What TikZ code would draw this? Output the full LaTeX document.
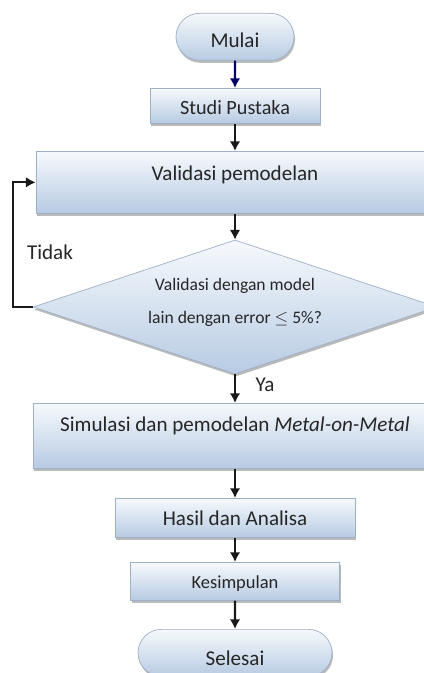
\documentclass[tikz,border=0pt]{standalone}
\usepackage{fontspec}
\setmainfont{Carlito}
\usepackage{tikz}
\usetikzlibrary{arrows,arrows.meta}
\usetikzlibrary{shapes.geometric,shapes.misc,shadows}
\tikzset{>={Latex[length=5.5pt,width=6pt]}}
\usepackage{xcolor}
\definecolor{topcol}{HTML}{F6F9FC}
\definecolor{botcol}{HTML}{B7CBE3}
\definecolor{edgecol}{HTML}{9FB0C6}
\colorlet{txtcol}{black!85}
\colorlet{startcol}{blue!40!black}
\tikzstyle{flow box}=[rectangle,draw=edgecol,top color=topcol,bottom color=botcol,text=txtcol,inner xsep=0pt,inner ysep=0pt,font=\fontsize{12}{14}\selectfont,drop shadow={shadow xshift=0.6pt,shadow yshift=-1.4pt,fill=black!45,opacity=0.6}]
\tikzstyle{flow end}=[flow box,rounded rectangle]
\tikzstyle{flow test}=[flow box,diamond,aspect=3,align=center,font=\fontsize{10}{12}\selectfont]
\tikzstyle{flow line}=[->,line width=1.3pt,black!90]

\begin{document}
\begin{tikzpicture}
  \def\mx{4.7}
  \useasboundingbox (0,0) rectangle (8.46,-13.46);

  \node[flow end,anchor=north,minimum width=2.36cm,text height=0.68cm,text depth=0.26cm] (start) at (\mx,-0.26) {Mulai};
  \node[flow box,anchor=north,minimum width=3.4cm,text height=0.52cm,text depth=0.18cm,font=\fontsize{11.5}{13.5}\selectfont] (study) at (\mx,-1.76) {Studi Pustaka};
  \node[flow box,anchor=north,minimum width=7.96cm,text height=0.58cm,text depth=0.66cm] (valid) at (\mx,-3.02) {Validasi pemodelan};
  \node[flow test,minimum width=8.08cm,minimum height=2.68cm] (test) at (\mx,-6.14)
       {Validasi dengan model\\[6.5pt] lain dengan error $\leq$ 5\%?\rule[-7pt]{0pt}{7pt}};
  \node[flow box,anchor=north,minimum width=8.08cm,text height=0.56cm,text depth=0.74cm] (sim) at (\mx,-8.06)
       {Simulasi dan pemodelan \textit{Metal-on-Metal}};
  \node[flow box,anchor=north,minimum width=4.8cm,text height=0.54cm,text depth=0.24cm] (result) at (\mx,-9.96) {Hasil dan Analisa};
  \node[flow box,anchor=north,minimum width=4.18cm,text height=0.52cm,text depth=0.24cm,font=\fontsize{10.5}{12.6}\selectfont] (concl) at (\mx,-11.24) {Kesimpulan};
  \node[flow end,anchor=north,minimum width=3.88cm,text height=0.72cm,text depth=0.22cm] (stop) at (\mx,-12.58) {Selesai};

  \node[txtcol,font=\fontsize{12}{14}\selectfont] (no) at (1.0,-5.04) {Tidak};
  \node[txtcol,font=\fontsize{12}{14}\selectfont] (yes) at (5.3,-7.7) {Ya};

  \draw[flow line,startcol] (start) -- (study);
  \draw[flow line] (study) -- (valid);
  \draw[flow line] (valid) -- (test);
  \draw[flow line] (test) -- (sim);
  \draw[flow line] (sim) -- (result);
  \draw[flow line] (result) -- (concl);
  \draw[flow line] (concl) -- (stop);
  \draw[flow line] (test.west) -- ++(-0.4,0) |- (valid.west);
\end{tikzpicture}
\end{document}
